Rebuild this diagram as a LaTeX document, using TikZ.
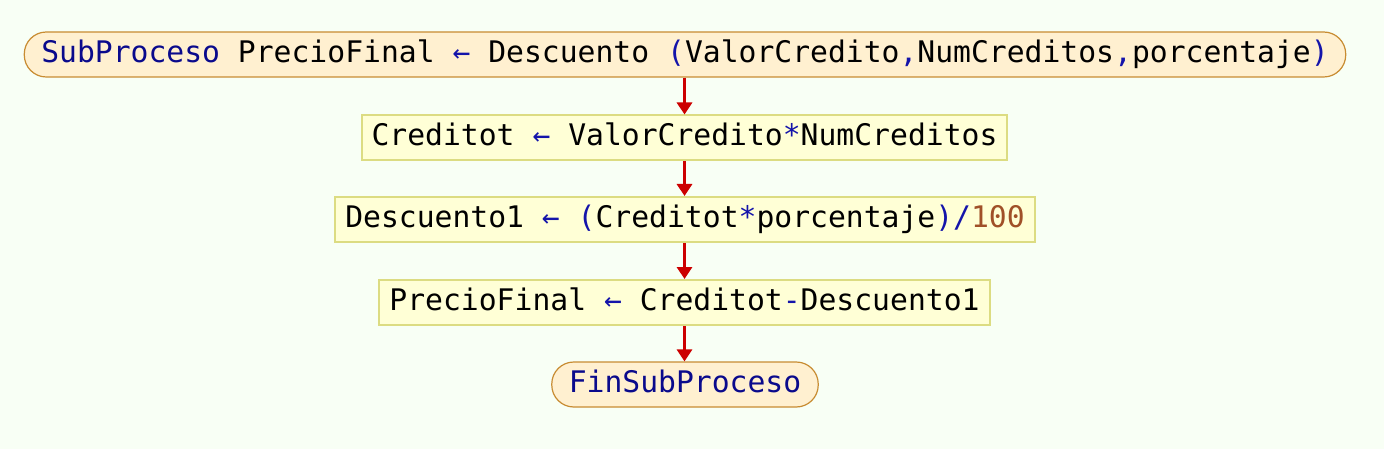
\documentclass[tikz,border=0pt]{standalone}
\usepackage{fontspec}
\newfontfamily\codefont{DejaVu Sans Mono}
\usetikzlibrary{arrows.meta}
\definecolor{bgc}{RGB}{248,255,245}
\definecolor{termfill}{RGB}{255,240,208}
\definecolor{termdraw}{RGB}{200,140,50}
\definecolor{procfill}{RGB}{255,255,214}
\definecolor{procdraw}{RGB}{220,220,130}
\definecolor{kw}{RGB}{10,10,140}
\definecolor{op}{RGB}{20,20,170}
\definecolor{num}{RGB}{160,80,40}
\definecolor{arr}{RGB}{204,0,0}
\newcommand{\kwd}[1]{\textcolor{kw}{#1}}
\newcommand{\opr}[1]{\textcolor{op}{#1}}
\newcommand{\nmb}[1]{\textcolor{num}{#1}}
\tikzset{
  base/.style={font=\codefont\fontsize{29.7}{32}\selectfont, text height=21.5pt, text depth=6pt, minimum height=45pt, inner xsep=10pt, inner ysep=0pt},
  term/.style={base, draw=termdraw, fill=termfill, line width=1.2pt, rounded corners=22pt, inner xsep=17pt},
  proc/.style={base, draw=procdraw, fill=procfill, line width=2pt},
  flow/.style={draw=arr, line width=3pt, -{Triangle[length=12pt,width=15pt]}}
}
\begin{document}
\begin{tikzpicture}[x=1pt,y=-1pt]
\fill[bgc] (0,0) rectangle (1384,449);
\useasboundingbox (0,0) rectangle (1384,449);
\node[term] (start) at (685,54.5) {\kwd{SubProceso} PrecioFinal \opr{←} Descuento \opr{(}ValorCredito\opr{,}NumCreditos\opr{,}porcentaje\opr{)}};
\node[proc] (p1) at (684.5,138) {Creditot \opr{←} ValorCredito\opr{*}NumCreditos};
\node[proc] (p2) at (685,219.5) {Descuento1 \opr{←} \opr{(}Creditot\opr{*}porcentaje\opr{)/}\nmb{100}};
\node[proc] (p3) at (684.5,302.5) {PrecioFinal \opr{←} Creditot\opr{-}Descuento1};
\node[term] (end) at (685,384.5) {\kwd{FinSubProceso}};
\draw[flow] (start.south -| 684.5,0) -- (p1.north -| 684.5,0);
\draw[flow] (p1.south -| 684.5,0) -- (p2.north -| 684.5,0);
\draw[flow] (p2.south -| 684.5,0) -- (p3.north -| 684.5,0);
\draw[flow] (p3.south -| 684.5,0) -- (end.north -| 684.5,0);
\end{tikzpicture}
\end{document}
